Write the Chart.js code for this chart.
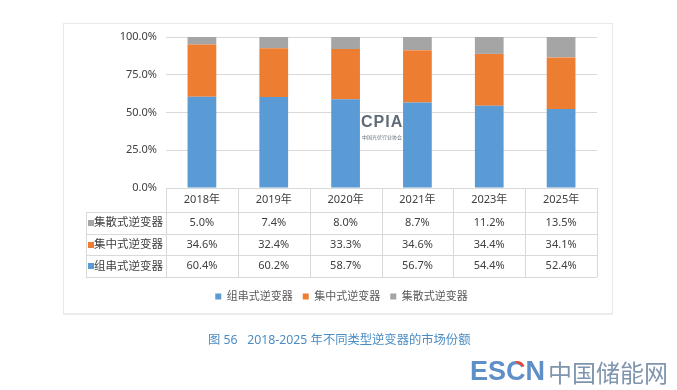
<!DOCTYPE html>
<html>
<head>
<meta charset="utf-8">
<script src="https://cdn.jsdelivr.net/npm/chart.js@4/dist/chart.umd.min.js"></script>
<style>
  html, body { margin: 0; padding: 0; background: #ffffff; }
  #wrap { position: relative; width: 677px; height: 390px; overflow: hidden; background: #fff; }
  #frame { position: absolute; left: 63px; top: 23px; width: 548px; height: 289px; border: 1px solid #e9e9e9; border-bottom: 2px solid #ececec; }
  canvas { position: absolute; left: 0; top: 0; }
  .txt { position: absolute; white-space: nowrap; font-family: 'Noto Sans', 'Noto Sans CJK SC', sans-serif; }
  #caption { left: 208px; top: 331px; font-size: 12.3px; line-height: 18px; color: #4a8cc4; }
  #cpia { left: 361px; top: 113px; font-family: 'Liberation Sans', Arial, sans-serif; font-weight: bold; font-size: 16px; line-height: 18px; letter-spacing: 1px; color: #5f6b77; }
  #cpiaSub { left: 362px; top: 134px; font-size: 5px; line-height: 6px; color: #66717c; }
  #escn { left: 470px; top: 358px; font-family: 'Liberation Sans', Arial, sans-serif; font-weight: bold; font-size: 27px; line-height: 27px; color: #5e8fc8; }
  #escn .c { background: linear-gradient(215deg, #e04a3c 0 30%, #5e8fc8 30%); -webkit-background-clip: text; background-clip: text; color: transparent; }
  #escnCn { left: 548px; top: 359px; font-family: 'Noto Sans CJK SC', sans-serif; font-size: 24px; line-height: 26px; color: #7f95ae; }
</style>
</head>
<body>
<div id="wrap">
  <div id="frame"></div>
  <canvas id="c" width="677" height="390"></canvas>
  <div class="txt" id="cpia">CPIA</div>
  <div class="txt" id="cpiaSub">中国光伏行业协会</div>
  <div class="txt" id="caption">图 56&nbsp;&nbsp;&nbsp;2018-2025 年不同类型逆变器的市场份额</div>
  <div class="txt" id="escn">ES<span class="c">C</span>N</div>
  <div class="txt" id="escnCn">中国储能网</div>
</div>
<script>
// ---- data ----
const categories = ['2018年', '2019年', '2020年', '2021年', '2023年', '2025年'];
const seriesNames = ['组串式逆变器', '集中式逆变器', '集散式逆变器'];
const stringShare = [60.4, 60.2, 58.7, 56.7, 54.4, 52.4];
const centralShare = [34.6, 32.4, 33.3, 34.6, 34.4, 34.1];
const distributedShare = [5.0, 7.4, 8.0, 8.7, 11.2, 13.5];
const yTickValues = [0, 25, 50, 75, 100];

const seriesColors = ['#5b9bd5', '#ed7d31', '#a5a5a5'];
const FONT = "'Noto Sans', 'Noto Sans CJK SC', sans-serif";
const TEXT = '#404040';
const LINE = '#d9d9d9';

const HEADER_H = 24;
const ROW_H = 21.7;

const tablePlugin = {
  id: 'dataTable',
  afterDraw(chart) {
    const ctx = chart.ctx;
    const xs = chart.scales.x;
    const ys = chart.scales.y;
    const area = chart.chartArea;
    const n = categories.length;
    const colW = (area.right - area.left) / n;
    const top = area.bottom;
    const rowsTop = top + HEADER_H;
    const ds = chart.data.datasets;
    const order = [2, 1, 0];
    const bottom = rowsTop + ROW_H * order.length;
    const left = ys.left;

    ctx.save();
    ctx.strokeStyle = LINE;
    ctx.lineWidth = 1;
    for (let i = 0; i <= n; i++) {
      const x = Math.round(area.left + i * colW) + 0.5;
      ctx.beginPath(); ctx.moveTo(x, top); ctx.lineTo(x, bottom); ctx.stroke();
    }
    ctx.beginPath(); ctx.moveTo(left + 0.5, rowsTop); ctx.lineTo(left + 0.5, bottom); ctx.stroke();
    for (let r = 0; r <= order.length; r++) {
      const y = Math.round(rowsTop + r * ROW_H) + 0.5;
      ctx.beginPath(); ctx.moveTo(left, y); ctx.lineTo(area.right, y); ctx.stroke();
    }
    ctx.textBaseline = 'middle';
    order.forEach((di, r) => {
      const cy = rowsTop + r * ROW_H + ROW_H / 2;
      ctx.fillStyle = ds[di].backgroundColor;
      ctx.fillRect(left + 2, Math.round(cy - 3), 6, 6);
      ctx.fillStyle = TEXT;
      ctx.textAlign = 'left';
      ctx.font = '11.5px ' + FONT;
      ctx.fillText(ds[di].label, left + 8, cy);
      ctx.textAlign = 'center';
      ctx.font = '11px ' + FONT;
      ds[di].data.forEach((v, i) => {
        ctx.fillText(v.toFixed(1) + '%', xs.getPixelForTick(i), cy);
      });
    });
    ctx.restore();
  }
};

new Chart(document.getElementById('c'), {
  type: 'bar',
  data: {
    labels: categories,
    datasets: [
      { label: seriesNames[0], data: stringShare, backgroundColor: seriesColors[0] },
      { label: seriesNames[1], data: centralShare, backgroundColor: seriesColors[1] },
      { label: seriesNames[2], data: distributedShare, backgroundColor: seriesColors[2] }
    ]
  },
  options: {
    responsive: false,
    animation: false,
    layout: { padding: { left: 86, right: 80, top: 37, bottom: 78 } },
    datasets: { bar: { barPercentage: 0.4, categoryPercentage: 1, borderWidth: 0 } },
    plugins: {
      tooltip: { enabled: false },
      legend: {
        position: 'bottom',
        labels: {
          boxWidth: 6, boxHeight: 6, padding: 10,
          color: '#595959',
          font: { family: FONT, size: 11 }
        }
      }
    },
    scales: {
      x: {
        stacked: true,
        grid: { display: false, drawTicks: false },
        border: { display: false },
        ticks: { color: TEXT, padding: 5, font: { family: FONT, size: 11 } },
        afterFit(s) { s.height = 93; }
      },
      y: {
        stacked: true,
        min: 0, max: 100,
        afterBuildTicks(s) { s.ticks = yTickValues.map(v => ({ value: v })); },
        afterFit(s) { s.width = 80; },
        grid: { color: LINE, drawTicks: false },
        border: { display: false },
        ticks: {
          color: TEXT, padding: 9,
          font: { family: FONT, size: 11 },
          callback: v => Number(v).toFixed(1) + '%'
        }
      }
    }
  },
  plugins: [tablePlugin]
});
</script>
</body>
</html>
